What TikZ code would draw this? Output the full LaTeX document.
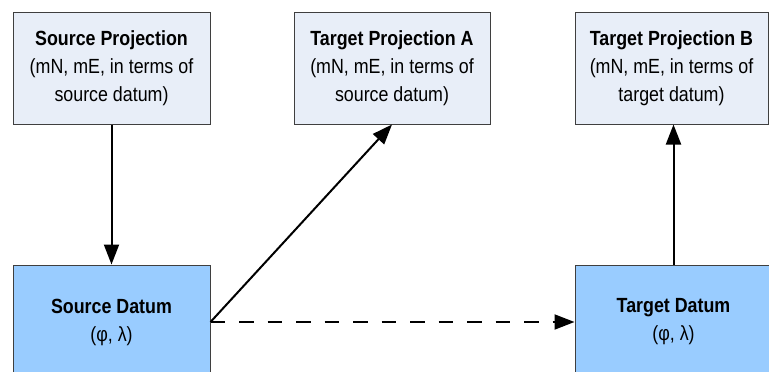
\documentclass[tikz,border=0pt]{standalone}
\usepackage{fontspec}
\setmainfont{Liberation Sans}[FakeStretch=0.87]
\usetikzlibrary{arrows.meta}
\definecolor{projfill}{HTML}{E8EEF8}
\definecolor{datumfill}{HTML}{99CCFF}
\definecolor{boxline}{HTML}{3F3F3F}
\tikzset{
  every node/.append style={font=\fontsize{20.5}{28}\selectfont},
  proj/.style={draw=boxline, fill=projfill, line width=1pt, align=center, inner sep=0pt},
  datum/.style={draw=boxline, fill=datumfill, line width=1pt, align=center, inner sep=0pt},
  link/.style={line width=2pt, -{Triangle[length=20pt,width=15pt]}}
}

\begin{document}
\begin{tikzpicture}[x=1pt, y=-1pt]
    \useasboundingbox (0,0) rectangle (769,372);

    \node[proj, minimum width=197pt, minimum height=112pt] (srcproj) at (111.5,68)
      {\textbf{Source Projection}\\(mN, mE, in terms of\\source datum)};
    \node[proj, minimum width=196pt, minimum height=112pt] (tgtA) at (392,68)
      {\textbf{Target Projection A}\\(mN, mE, in terms of\\source datum)};
    \node[proj, minimum width=193pt, minimum height=112pt] (tgtB) at (671.5,68)
      {\textbf{Target Projection B}\\(mN, mE, in terms of\\target datum)};
    \node[datum, minimum width=197pt, minimum height=114pt] (srcdat) at (111.5,322)
      {\textbf{Source Datum}\\(φ, λ)};
    \node[datum, minimum width=197pt, minimum height=114pt] (tgtdat) at (673.5,322)
      {\textbf{Target Datum}\\(φ, λ)};

    \draw
      (srcproj) edge[link] (srcdat)
      (srcdat.east) edge[link] (tgtA.south)
      (srcdat.east) edge[link, dash pattern=on 14.5pt off 14pt] (tgtdat.west)
      (tgtdat.north) edge[link] (tgtdat.north |- tgtB.south);
\end{tikzpicture}
\end{document}
